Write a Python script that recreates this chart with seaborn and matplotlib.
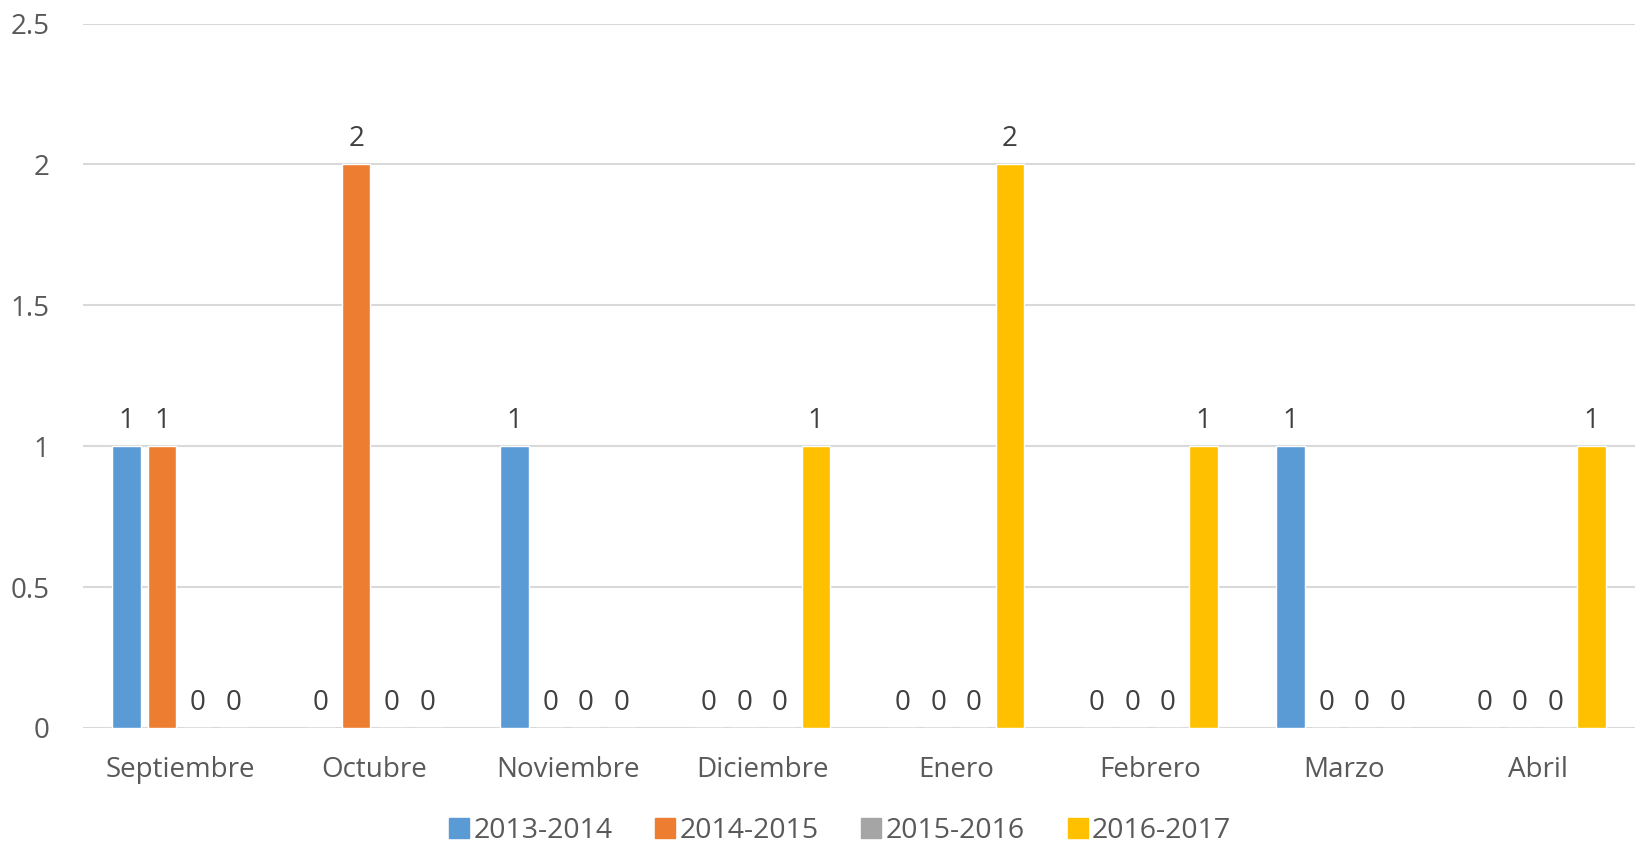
import numpy as np
import pandas as pd
import matplotlib
matplotlib.use("Agg")
import matplotlib.pyplot as plt
import seaborn as sns

# Data
meses = ["Septiembre", "Octubre", "Noviembre", "Diciembre", "Enero", "Febrero", "Marzo", "Abril"]
s2013_2014 = [1, 0, 1, 0, 0, 0, 1, 0]
s2014_2015 = [1, 2, 0, 0, 0, 0, 0, 0]
s2015_2016 = [0, 0, 0, 0, 0, 0, 0, 0]
s2016_2017 = [0, 0, 0, 1, 2, 1, 0, 1]
series = ["2013-2014", "2014-2015", "2015-2016", "2016-2017"]
colores = ["#5b9bd5", "#ed7d31", "#a5a5a5", "#ffc000"]

df = pd.DataFrame({
    "Mes": meses * 4,
    "Valor": s2013_2014 + s2014_2015 + s2015_2016 + s2016_2017,
    "Serie": np.repeat(series, len(meses)),
})

sns.set_style("white")
plt.rcParams["font.family"] = ["Open Sans", "DejaVu Sans"]
txt = "#595959"
fs = 20

fig = plt.figure(figsize=(16.35, 8.46), dpi=100)
ax = fig.add_axes([0.0508, 0.1395, 0.9492, 0.8327])

sns.barplot(data=df, x="Mes", y="Valor", hue="Serie", palette=colores,
            saturation=1, width=0.74, gap=0.2, ax=ax, legend=False, errorbar=None)

for c in ax.containers:
    ax.bar_label(c, fmt="%g", padding=8, fontsize=fs, color="#404040")

ax.set_ylim(0, 2.5)
ax.set_xlim(-0.5, len(meses) - 0.5)
ax.set_yticks([0, 0.5, 1, 1.5, 2, 2.5])
ax.set_yticklabels(["0", "0.5", "1", "1.5", "2", "2.5"])
ax.yaxis.grid(True, color="#d9d9d9", linewidth=1.5)
ax.set_axisbelow(True)
for s in ax.spines.values():
    s.set_visible(False)
ax.tick_params(axis="both", length=0, labelsize=fs, colors=txt)
ax.tick_params(axis="x", pad=20)
ax.tick_params(axis="y", pad=24)
ax.set_xlabel("")
ax.set_ylabel("")

handles = [plt.Line2D([], [], marker="s", linestyle="", markersize=15,
                      markerfacecolor=c, markeredgecolor=c) for c in colores]
leg = fig.legend(handles, series, loc="center", bbox_to_anchor=(0.513, 0.018),
                 ncol=4, frameon=False, fontsize=fs + 0.5, handletextpad=0.05,
                 columnspacing=1.4, handlelength=0.9)
for t in leg.get_texts():
    t.set_color(txt)

fig.savefig("out.png", dpi=100)
